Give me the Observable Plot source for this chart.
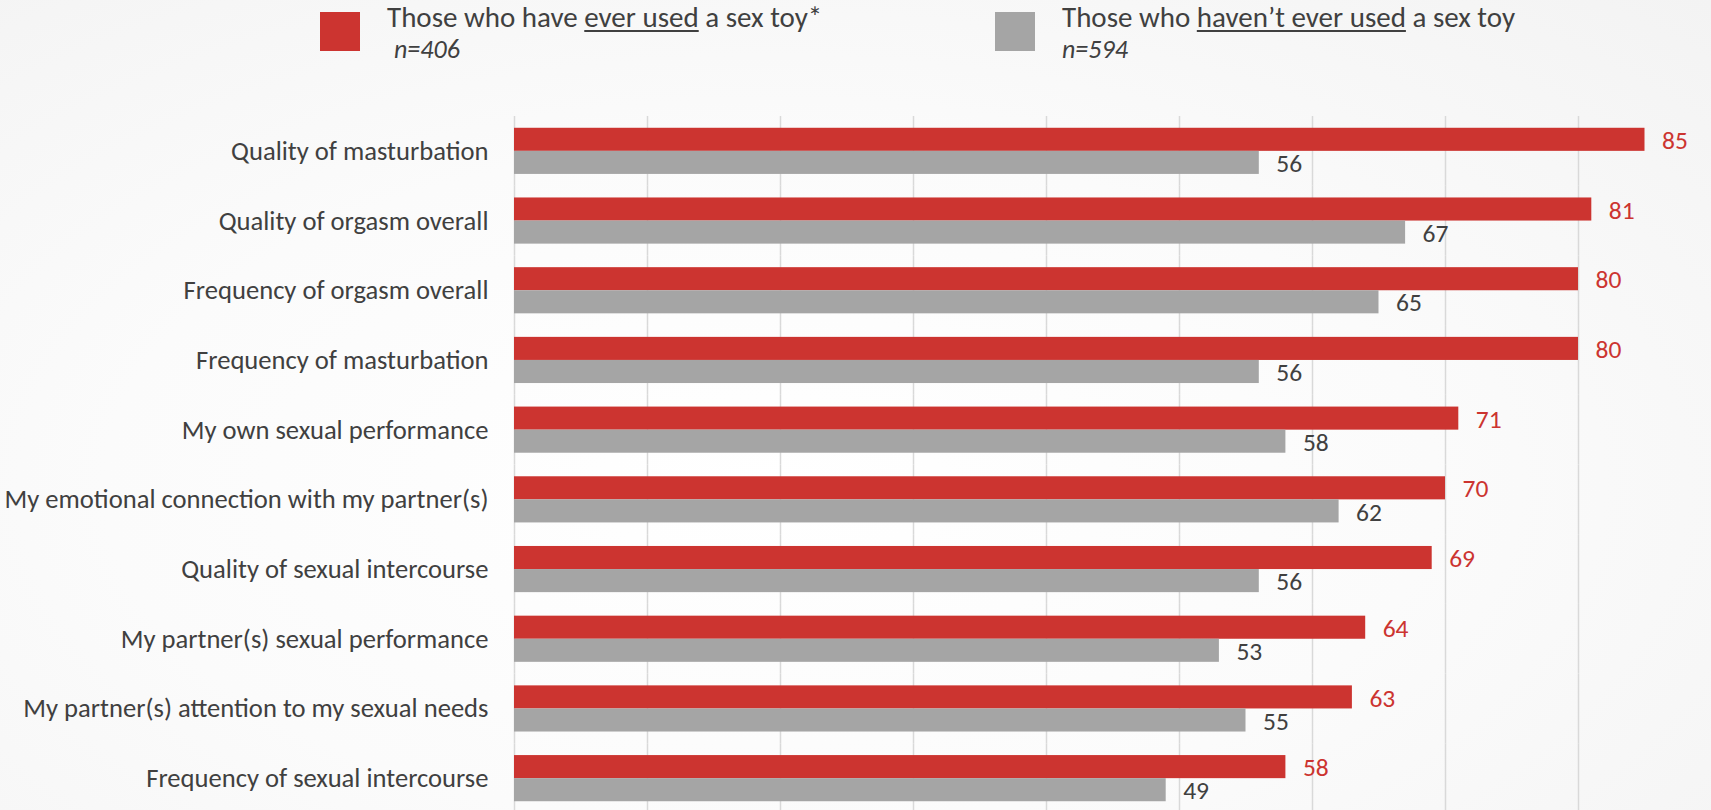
<!DOCTYPE html>
<html>
<head>
<meta charset="utf-8">
<script src="https://cdn.jsdelivr.net/npm/d3@7"></script>
<script src="https://cdn.jsdelivr.net/npm/@observablehq/plot@0.6"></script>
<style>
  html, body { margin: 0; padding: 0; }
  body {
    width: 1711px; height: 810px; overflow: hidden;
    background: radial-gradient(ellipse at 45% 60%, #ffffff 0%, #fbfbfb 50%, #f3f3f3 100%);
    font-family: Carlito, Calibri, "Liberation Sans Narrow", "Open Sans", sans-serif;
    color: #404040;
  }
  #legend { position: relative; height: 100px; width: 1711px; }
  .sw { position: absolute; width: 40px; height: 39px; top: 12px; }
  .lt { position: absolute; top: 3px; white-space: nowrap; font-size: 29px; line-height: 28px; }
  .ln { position: absolute; top: 35px; white-space: nowrap; font-size: 26px; font-style: italic; line-height: 28px; }
  .lt u { text-decoration-thickness: 1.5px; text-underline-offset: 3px; }
  #chart svg { display: block; }
</style>
</head>
<body>
<div id="legend"></div>
<div id="chart"></div>
<script>
const categories = [
  "Quality of masturbation",
  "Quality of orgasm overall",
  "Frequency of orgasm overall",
  "Frequency of masturbation",
  "My own sexual performance",
  "My emotional connection with my partner(s)",
  "Quality of sexual intercourse",
  "My partner(s) sexual performance",
  "My partner(s) attention to my sexual needs",
  "Frequency of sexual intercourse"
];
const everUsed = [85, 81, 80, 80, 71, 70, 69, 64, 63, 58];
const neverUsed = [56, 67, 65, 56, 58, 62, 56, 53, 55, 49];
const groups = ["ever", "never"];
const groupColors = ["#CC3430", "#A5A5A5"];
const labelColors = ["#CC3430", "#404040"];
const gridTicks = [0, 10, 20, 30, 40, 50, 60, 70, 80];
const legendItems = [
  {html: 'Those who have <u>ever used</u> a sex toy*', n: "n=406"},
  {html: 'Those who <u>haven\u2019t ever used</u> a sex toy', n: "n=594"}
];

const rows = [];
categories.forEach((c, i) => {
  rows.push({category: c, group: "ever", value: everUsed[i]});
  rows.push({category: c, group: "never", value: neverUsed[i]});
});

// Legend
const legend = document.getElementById("legend");
const legendPos = [{sw: 320, t: 387, n: 394}, {sw: 995, t: 1062, n: 1062}];
legendItems.forEach((it, i) => {
  const sw = document.createElement("div");
  sw.className = "sw"; sw.style.left = legendPos[i].sw + "px"; sw.style.background = groupColors[i];
  const t = document.createElement("div");
  t.className = "lt"; t.style.left = legendPos[i].t + "px"; t.innerHTML = it.html;
  const n = document.createElement("div");
  n.className = "ln"; n.style.left = legendPos[i].n + "px"; n.textContent = it.n;
  legend.append(sw, t, n);
});

const fontFam = 'Carlito, Calibri, "Liberation Sans Narrow", "Open Sans", sans-serif';
const chart = Plot.plot({
  width: 1711,
  height: 713,
  marginTop: 16,
  marginBottom: 0,
  marginLeft: 514,
  marginRight: 0,
  style: {background: "transparent", fontFamily: fontFam, color: "#404040", overflow: "visible"},
  x: {domain: [0, 90], axis: null},
  y: {domain: groups, axis: null, paddingInner: 0, paddingOuter: 0.51, round: false},
  fy: {domain: categories, padding: 0, round: false, label: null},
  color: {domain: groups, range: groupColors},
  marks: [
    Plot.gridX(gridTicks, {stroke: "#d9d9d9", strokeOpacity: 1, strokeWidth: 1.5}),
    Plot.barX(rows, {x: "value", y: "group", fy: "category", fill: "group"}),
    Plot.text(rows.filter(d => d.group === "ever"), {x: "value", y: "group", fy: "category", text: d => String(d.value), textAnchor: "start", dx: 17, dy: 1, fill: labelColors[0], fontSize: 25.5}),
    Plot.text(rows.filter(d => d.group === "never"), {x: "value", y: "group", fy: "category", text: d => String(d.value), textAnchor: "start", dx: 17, dy: 1, fill: labelColors[1], fontSize: 25.5}),
    Plot.axisFy({anchor: "left", tickSize: 0, tickPadding: 26, fontSize: 26.6, label: null, fill: "#404040"})
  ]
});
document.getElementById("chart").append(chart);
</script>
</body>
</html>
